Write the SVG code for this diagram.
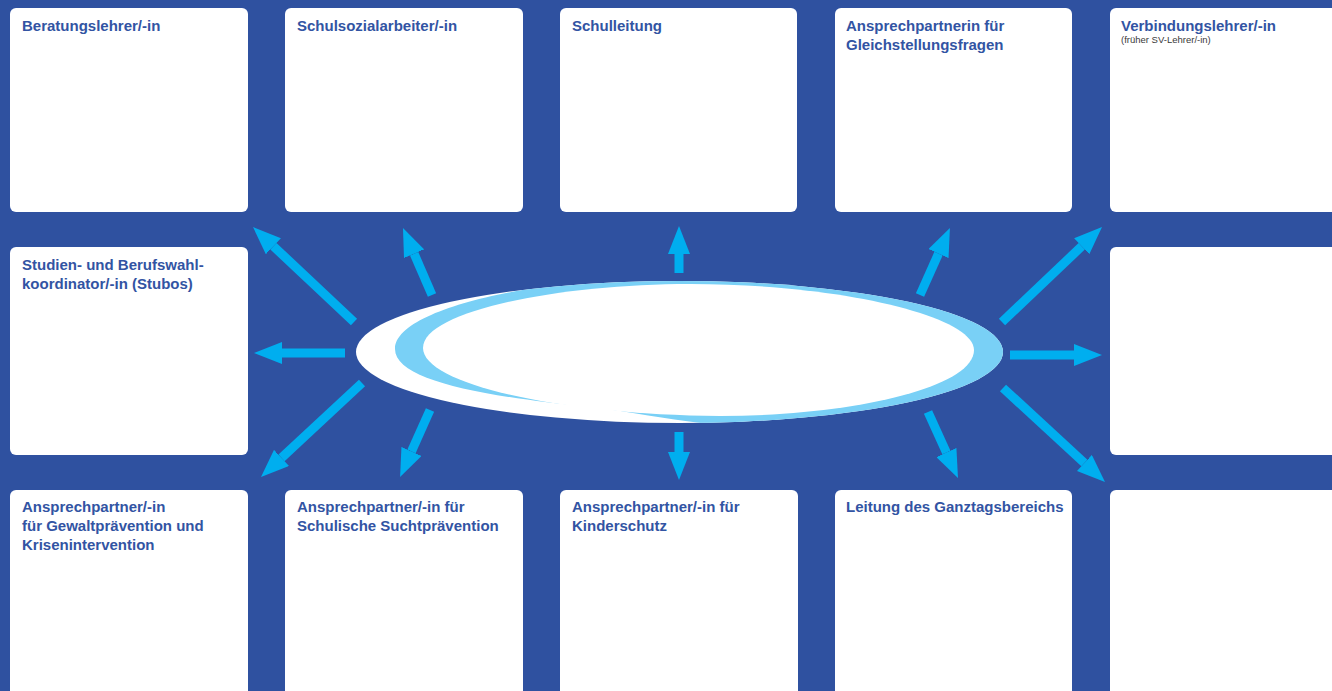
<svg xmlns="http://www.w3.org/2000/svg" width="1332" height="691" viewBox="0 0 1332 691">
  <style>
    .bg { fill: #2F51A0; }
    .box { fill: #FFFFFF; }
    .title { font-family: "Liberation Sans", Arial, sans-serif; font-weight: bold; font-size: 15px; fill: #3254A3; }
    .note { font-family: "Liberation Sans", Arial, sans-serif; font-size: 9.5px; fill: #3A3A3A; }
    .arrow { stroke: #00AEEF; stroke-width: 9; fill: none; marker-end: url(#head); }
  </style>
  <defs>
    <marker id="head" markerUnits="userSpaceOnUse" markerWidth="28" markerHeight="22" viewBox="0 0 28 22" refX="0" refY="11" orient="auto">
      <path d="M0,0 L28,11 L0,22 Z" fill="#00AEEF"/>
    </marker>
    <clipPath id="rim">
      <ellipse cx="679.5" cy="352" rx="323.5" ry="71"/>
    </clipPath>
  </defs>

  <rect class="bg" x="0" y="0" width="1332" height="691"/>

  <!-- top row -->
  <g id="beratungslehrer">
    <rect class="box" x="10" y="8" width="238" height="204" rx="6"/>
    <text class="title" x="22" y="31">Beratungslehrer/-in</text>
  </g>
  <g id="schulsozialarbeiter">
    <rect class="box" x="285" y="8" width="238" height="204" rx="6"/>
    <text class="title" x="297" y="31">Schulsozialarbeiter/-in</text>
  </g>
  <g id="schulleitung">
    <rect class="box" x="560" y="8" width="237" height="204" rx="6"/>
    <text class="title" x="572" y="31">Schulleitung</text>
  </g>
  <g id="gleichstellung">
    <rect class="box" x="835" y="8" width="237" height="204" rx="6"/>
    <text class="title" x="846" y="31">Ansprechpartnerin für</text>
    <text class="title" x="846" y="50">Gleichstellungsfragen</text>
  </g>
  <g id="verbindungslehrer">
    <rect class="box" x="1110" y="8" width="238" height="204" rx="6"/>
    <text class="title" x="1121" y="31">Verbindungslehrer/-in</text>
    <text class="note" x="1121" y="43">(früher SV-Lehrer/-in)</text>
  </g>

  <!-- middle row -->
  <g id="stubos">
    <rect class="box" x="10" y="247" width="238" height="208" rx="6"/>
    <text class="title" x="22" y="270">Studien- und Berufswahl-</text>
    <text class="title" x="22" y="289">koordinator/-in (Stubos)</text>
  </g>
  <g id="rechts-mitte">
    <rect class="box" x="1110" y="247" width="238" height="208" rx="6"/>
  </g>

  <!-- bottom row -->
  <g id="gewaltpraevention">
    <rect class="box" x="10" y="490" width="238" height="220" rx="6"/>
    <text class="title" x="22" y="512">Ansprechpartner/-in</text>
    <text class="title" x="22" y="531">für Gewaltprävention und</text>
    <text class="title" x="22" y="550">Krisenintervention</text>
  </g>
  <g id="suchtpraevention">
    <rect class="box" x="285" y="490" width="238" height="220" rx="6"/>
    <text class="title" x="297" y="512">Ansprechpartner/-in für</text>
    <text class="title" x="297" y="531">Schulische Suchtprävention</text>
  </g>
  <g id="kinderschutz">
    <rect class="box" x="560" y="490" width="238" height="220" rx="6"/>
    <text class="title" x="572" y="512">Ansprechpartner/-in für</text>
    <text class="title" x="572" y="531">Kinderschutz</text>
  </g>
  <g id="ganztag">
    <rect class="box" x="835" y="490" width="237" height="220" rx="6"/>
    <text class="title" x="846" y="512">Leitung des Ganztagsbereichs</text>
  </g>
  <g id="rechts-unten">
    <rect class="box" x="1110" y="490" width="238" height="220" rx="6"/>
  </g>

  <!-- central swoosh ellipse: white disc, light-blue crescent clipped to the rim, white core -->
  <g id="zentrum">
    <ellipse cx="679.5" cy="352" rx="323.5" ry="71" fill="#FFFFFF"/>
    <path clip-path="url(#rim)" fill="#79D0F6" d="M395,349 C395,308 540,277 680,277 C850,277 1012,310 1012,350 C1012,395 860,428 745,426 C690,425 650,414 590,407 C480,396 395,380 395,349 Z"/>
    <path fill="#FFFFFF" d="M423,348 C423,311 560,284 690,284 C840,284 974,316 974,350 C974,388 850,416 720,416 C560,415 423,384 423,348 Z"/>
  </g>

  <!-- connectors -->
  <g id="connectors">
    <line class="arrow" x1="354" y1="322" x2="273.4" y2="246.2"/>
    <line class="arrow" x1="432" y1="295" x2="414.1" y2="253.7"/>
    <line class="arrow" x1="345" y1="353" x2="282" y2="353"/>
    <line class="arrow" x1="362" y1="383" x2="281.5" y2="457.9"/>
    <line class="arrow" x1="430" y1="410" x2="411.5" y2="451.4"/>
    <line class="arrow" x1="679" y1="273" x2="679" y2="254"/>
    <line class="arrow" x1="679" y1="432" x2="679" y2="452"/>
    <line class="arrow" x1="920" y1="295" x2="938.5" y2="253.6"/>
    <line class="arrow" x1="1002" y1="322" x2="1081.7" y2="246.3"/>
    <line class="arrow" x1="1010" y1="355" x2="1074" y2="355"/>
    <line class="arrow" x1="1003" y1="388" x2="1084.4" y2="463"/>
    <line class="arrow" x1="928" y1="412" x2="946.4" y2="452.5"/>
  </g>
</svg>
